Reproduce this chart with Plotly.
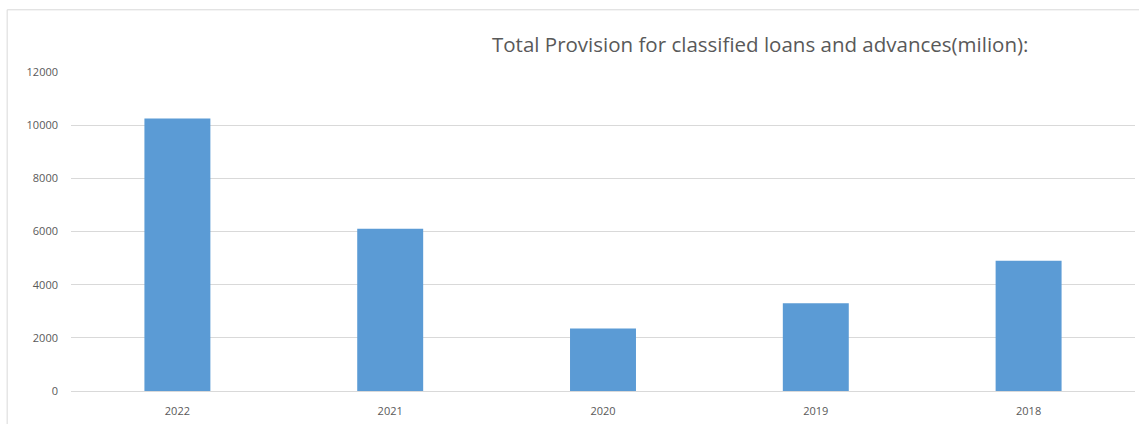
import plotly.graph_objects as go

years = ["2022", "2021", "2020", "2019", "2018"]
provision = [10250, 6100, 2350, 3300, 4900]
y_ticks = [0, 2000, 4000, 6000, 8000, 10000, 12000]
y_tick_labels = ["0", "2000", "4000", "6000", "8000", "10000", "12000"]

fig = go.Figure()
fig.add_trace(go.Bar(
    x=years, y=provision,
    marker=dict(color="#5B9BD5", line=dict(width=0)),
    width=0.31,
))

fig.update_layout(
    width=1139, height=424,
    margin=dict(l=71, r=4, t=72, b=33),
    paper_bgcolor="white", plot_bgcolor="white",
    showlegend=False,
    font=dict(family="Open Sans, Liberation Sans, sans-serif", color="#595959"),
    xaxis=dict(
        type="category",
        showgrid=False,
        showline=True, linecolor="#D9D9D9", linewidth=1,
        tickfont=dict(size=11, color="#595959"),
        ticks="", ticklabelstandoff=10,
    ),
    yaxis=dict(
        range=[0, 12000],
        tickvals=y_ticks, ticktext=y_tick_labels,
        showgrid=True, gridcolor="#D9D9D9", gridwidth=1,
        zeroline=False, showline=False,
        tickfont=dict(size=11, color="#595959"),
        ticks="", ticklabelstandoff=12,
    ),
    annotations=[dict(
        text="Total Provision for classified loans and advances(milion):",
        xref="paper", yref="paper", x=0.6476, y=1.0, yshift=28,
        xanchor="center", yanchor="middle", showarrow=False,
        font=dict(size=20.5, color="#595959"),
    )],
    shapes=[dict(
        type="rect", xref="paper", yref="paper",
        x0=-0.06, x1=1.1, y0=-0.3, y1=1.195,
        line=dict(color="#D9D9D9", width=1), fillcolor="rgba(0,0,0,0)",
        layer="below",
    )],
)

fig.write_html("out.html")
